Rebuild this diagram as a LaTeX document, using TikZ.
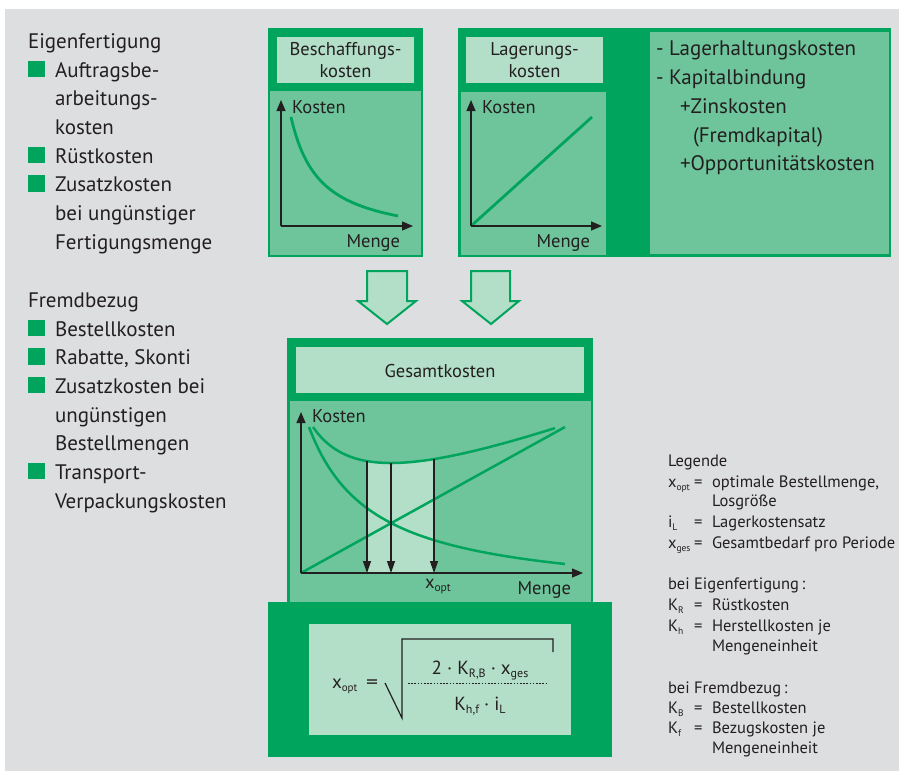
\documentclass[tikz,border=0pt]{standalone}
\usepackage{fontspec}
\usepackage{graphicx}
\setmainfont{PT Sans}
\usetikzlibrary{arrows.meta}
\definecolor{dg}{RGB}{0,164,92}
\definecolor{mg}{RGB}{110,197,155}
\definecolor{lg}{RGB}{179,223,201}
\definecolor{bgc}{RGB}{221,222,224}
\definecolor{tx}{RGB}{35,31,32}
\newcommand\sbx[2][12]{\raisebox{-3.5pt}{\fontsize{#1}{#1}\selectfont #2}}
\newcommand\lsb[1]{\raisebox{-3pt}{\fontsize{9.5}{9.5}\selectfont #1}}
\begin{document}
\begin{tikzpicture}[x=1pt,y=-1pt,
  every node/.style={inner sep=0pt, outer sep=0pt, text=tx},
  big/.style={font=\fontsize{21}{25}\selectfont, anchor=base west},
  ttl/.style={font=\fontsize{18.5}{22}\selectfont, anchor=base},
  axl/.style={font=\fontsize{18.5}{22}\selectfont},
  leg/.style={font=\fontsize{16.5}{20}\selectfont, anchor=base west},
  frm/.style={font=\fontsize{19}{22}\selectfont},
  panel/.style={fill=mg, draw=dg, line width=1.5pt},
  axis/.style={draw=tx, line width=1.3pt, -{Triangle[length=11pt,width=9pt]}},
  downarr/.style={draw=tx, line width=1.3pt, -{Triangle[length=12pt,width=8pt]}},
  curve/.style={draw=dg, line width=2.8pt},
  blockarrow/.style={fill=lg, draw=dg, line width=2pt, line join=miter},
  bullet/.style={fill=dg}
]
\useasboundingbox (0,0) rectangle (901,771);
\fill[white] (0,0) rectangle (901,771);
\fill[bgc] (5,9) rectangle (899,771);

% ---------- left list ----------
\node[big] (e0) at (28,48) {Eigenfertigung};
\fill[bullet] (28,60.5) rectangle (44.5,77);
\node[big] (e1) at (55,77) {Auftragsbe-};
\node[big] (e2) at (55,105.5) {arbeitungs-};
\node[big] (e3) at (55,134) {kosten};
\fill[bullet] (28,146.5) rectangle (44.5,163);
\node[big] (e4) at (55,163) {Rüstkosten};
\fill[bullet] (28,175) rectangle (44.5,191.5);
\node[big] (e5) at (55,191.5) {Zusatzkosten};
\node[big] (e6) at (55,220) {bei ungünstiger};
\node[big] (e7) at (55,249) {Fertigungsmenge};

\node[big] (f0) at (28,307) {Fremdbezug};
\fill[bullet] (28,319.5) rectangle (44.5,336);
\node[big] (f1) at (55,336) {Bestellkosten};
\fill[bullet] (28,348) rectangle (44.5,364.5);
\node[big] (f2) at (55,364.5) {Rabatte, Skonti};
\fill[bullet] (28,376.5) rectangle (44.5,393);
\node[big] (f3) at (55,393) {Zusatzkosten bei};
\node[big] (f4) at (55,422) {ungünstigen};
\node[big] (f5) at (55,450.5) {Bestellmengen};
\fill[bullet] (28,462.5) rectangle (44.5,479);
\node[big] (f6) at (55,479) {Transport-};
\node[big] (f7) at (55,508) {Verpackungskosten};

% ---------- box 1: Beschaffungskosten ----------
\fill[dg] (268,28) rectangle (423,257);
\fill[lg] (277,37) rectangle (414,83);
\draw[panel] (269.5,90) rectangle (421.5,256);
\node[ttl] (b1a) at (345.5,55) {Beschaffungs-};
\node[ttl] (b1b) at (345.5,77) {kosten};
\coordinate (o1) at (281,226);
\draw[curve] plot[domain=291:398, samples=60, smooth] (\x,{226-(3603/(\x-262.3)-16.5)});
\draw[axis] (o1) -- (281,100);
\draw[axis] (o1) -- (413,226);
\node[axl, anchor=base west] (k1) at (292,113) {Kosten};
\node[axl, anchor=base east] (m1) at (400,247) {Menge};

% ---------- box 2: Lagerungskosten ----------
\fill[dg] (458,28) rectangle (891,257);
\fill[lg] (466,37) rectangle (603,83);
\draw[panel] (460.5,91) rectangle (606.5,256);
\draw[panel] (649.5,31.5) rectangle (889.5,255);
\node[ttl] (b2a) at (534.5,55) {Lagerungs-};
\node[ttl] (b2b) at (534.5,77) {kosten};
\coordinate (o2) at (471,226);
\draw[curve] (o2) -- (592,117);
\draw[axis] (o2) -- (471,100);
\draw[axis] (o2) -- (602,226);
\node[axl, anchor=base west] (k2) at (482,113) {Kosten};
\node[axl, anchor=base east] (m2) at (590,247) {Menge};

\node[big] (r1) at (656,55) {-\ Lagerhaltungskosten};
\node[big] (r2) at (656,84) {-\ Kapitalbindung};
\node[big] (r3) at (680,113) {+Zinskosten};
\node[big] (r4) at (693,142) {(Fremdkapital)};
\node[big] (r5) at (680,170) {+Opportunitätskosten};

% ---------- block arrows ----------
\draw[blockarrow] (367,271) -- (407,271) -- (407,301) -- (416,301) -- (387,324) -- (358,301) -- (367,301) -- cycle;
\draw[blockarrow] (471,271) -- (510,271) -- (510,301) -- (519,301) -- (491,324) -- (462,301) -- (471,301) -- cycle;

% ---------- Gesamtkosten ----------
\fill[dg] (287,338) rectangle (593,605);
\fill[lg] (296,347) rectangle (584,393);
\draw[panel] (289.5,400) rectangle (591.5,606);
\node[ttl] (gk) at (440,377) {Gesamtkosten};
\coordinate (o3) at (301,573);
\fill[lg] (367,573) -- plot[domain=367:434, samples=30] (\x,{573-(8576/(\x-245)+0.4023*(\x-301)+15.05)}) -- (434,573) -- cycle;
\draw[curve, line width=2.5pt] plot[domain=309:565, samples=80, smooth] (\x,{573-(11062/(\x-244.5)-25.5)});
\draw[curve, line width=2.5pt] (o3) -- (565,427);
\draw[curve, line width=2.5pt] plot[domain=313:555, samples=80, smooth] (\x,{573-(8576/(\x-245)+0.4023*(\x-301)+15.05)});
\coordinate (t1) at (367,461);
\coordinate (t2) at (391,463);
\coordinate (t3) at (434,459);
\draw[downarr] (t1) -- (367,573);
\draw[downarr] (t2) -- (391,573);
\draw[downarr] (t3) -- (434,573);
\draw[tx, line width=1.3pt] (367,573) -- (434,573);
\draw[axis] (o3) -- (301,412);
\draw[axis] (o3) -- (583,573);
\node[axl, anchor=base west] (k3) at (312,422) {Kosten};
\node[axl, anchor=base east] (m3) at (571,594) {Menge};
\node[axl, anchor=base west] (xo) at (425,588) {x\sbx[11.5]{opt}};

% ---------- formula ----------
\fill[dg] (268,602) rectangle (612,757);
\fill[lg] (309,624) rectangle (571,735);
\node[frm, anchor=base west] (fx) at (332,688) {x\sbx[11]{opt}};
\node[frm, anchor=base] (feq) at (372,688) {\scalebox{1.25}[1]{=}};
\node[frm, anchor=base] (num) at (480,674) {2 · K\sbx{R,B} · x\sbx{ges}};
\node[frm, anchor=base] (den) at (480,710) {K\sbx{h,f} · i\sbx{L}};
\draw[tx, line width=1.2pt, line join=miter] (385,683) -- (402,718) -- (402,639) -- (553,639) -- (553,652);
\draw[tx, line width=1pt, dash pattern=on 1.6pt off 1.6pt] (408,683) -- (548,683);

% ---------- legend ----------
\node[leg] (lg0) at (668,466) {Legende};
\node[leg] (lg1s) at (668,487) {x\lsb{opt}};
\node[leg] (lg1e) at (694,487) {=};
\node[leg] (lg1t) at (712,487) {optimale Bestellmenge,};
\node[leg] (lg1u) at (712,506) {Losgröße};
\node[leg] (lg2s) at (668,527) {i\lsb{L}};
\node[leg] (lg2e) at (694,527) {=};
\node[leg] (lg2t) at (712,527) {Lagerkostensatz};
\node[leg] (lg3s) at (668,548) {x\lsb{ges}};
\node[leg] (lg3e) at (694,548) {=};
\node[leg] (lg3t) at (712,548) {Gesamtbedarf pro Periode};
\node[leg] (lg4) at (668,589) {bei Eigenfertigung\,:};
\node[leg] (lg5s) at (668,610) {K\lsb{R}};
\node[leg] (lg5e) at (694,610) {=};
\node[leg] (lg5t) at (712,610) {Rüstkosten};
\node[leg] (lg6s) at (668,631) {K\lsb{h}};
\node[leg] (lg6e) at (694,631) {=};
\node[leg] (lg6t) at (712,631) {Herstellkosten je};
\node[leg] (lg6u) at (712,651) {Mengeneinheit};
\node[leg] (lg7) at (668,693) {bei Fremdbezug\,:};
\node[leg] (lg8s) at (668,713) {K\lsb{B}};
\node[leg] (lg8e) at (694,713) {=};
\node[leg] (lg8t) at (712,713) {Bestellkosten};
\node[leg] (lg9s) at (668,733) {K\lsb{f}};
\node[leg] (lg9e) at (694,733) {=};
\node[leg] (lg9t) at (712,733) {Bezugskosten je};
\node[leg] (lg9u) at (712,753) {Mengeneinheit};
\end{tikzpicture}
\end{document}
